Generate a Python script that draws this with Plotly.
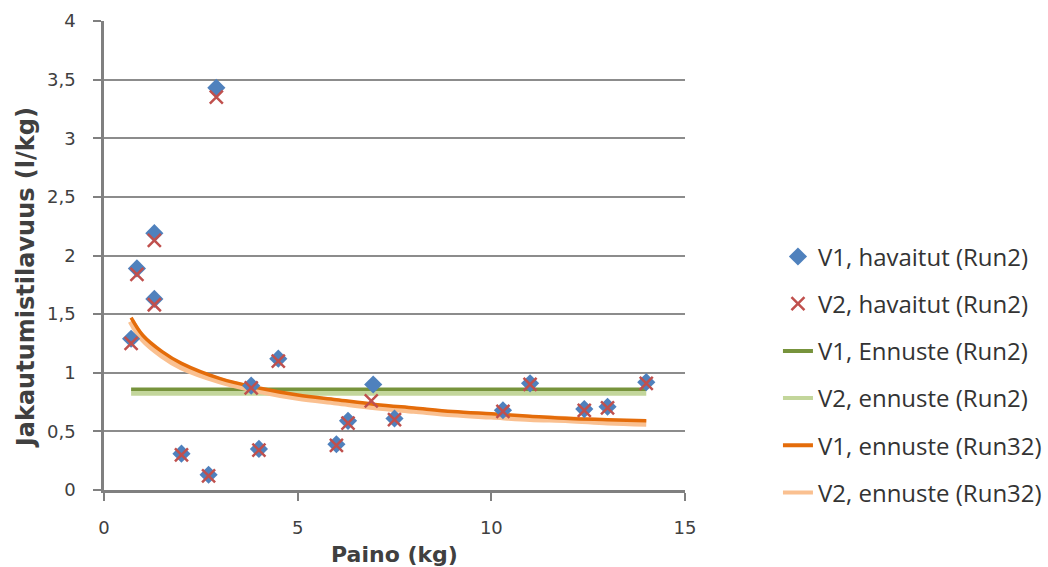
import plotly.graph_objects as go

# Observed data (Paino kg, Jakautumistilavuus l/kg)
obs_x = [0.7, 0.85, 1.3, 1.3, 2.9, 2.0, 2.7, 3.8, 4.0, 4.5, 6.0, 6.3, 6.95, 7.5, 10.3, 11.0, 12.4, 13.0, 14.0]
v1_obs = [1.29, 1.89, 1.63, 2.19, 3.43, 0.31, 0.13, 0.89, 0.35, 1.12, 0.39, 0.59, 0.90, 0.61, 0.68, 0.91, 0.69, 0.71, 0.92]
v2_obs_x = [0.7, 0.85, 1.3, 1.3, 2.9, 2.0, 2.7, 3.8, 4.0, 4.5, 6.0, 6.3, 6.9, 7.5, 10.3, 11.0, 12.4, 13.0, 14.0]
v2_obs = [1.25, 1.84, 1.58, 2.13, 3.35, 0.30, 0.12, 0.87, 0.34, 1.10, 0.38, 0.57, 0.76, 0.60, 0.67, 0.90, 0.68, 0.70, 0.91]

# Predictions
pred2_x = [0.7, 14.0]
v1_pred2 = [0.86, 0.86]
v2_pred2 = [0.83, 0.83]

pred32_x = [0.7, 1.0, 1.5, 2.0, 3.0, 4.0, 5.0, 6.0, 7.0, 8.0, 9.0, 10.0, 11.0, 12.0, 13.0, 14.0]
v1_pred32 = [1.47, 1.32, 1.18, 1.08, 0.95, 0.87, 0.81, 0.77, 0.73, 0.70, 0.67, 0.65, 0.63, 0.61, 0.60, 0.59]
v2_pred32 = [1.44, 1.29, 1.15, 1.05, 0.93, 0.85, 0.79, 0.75, 0.71, 0.68, 0.65, 0.63, 0.61, 0.60, 0.58, 0.57]

x_title = "Paino (kg)"
y_title = "Jakautumistilavuus (l/kg)"

fig = go.Figure()

# drawn lines (legend entries are separate stubs to control order/look)
fig.add_trace(go.Scatter(x=pred2_x, y=v2_pred2, mode="lines", name="V2, ennuste (Run2)",
                         line=dict(color="#C3D69B", width=6), showlegend=False))
fig.add_trace(go.Scatter(x=pred2_x, y=v1_pred2, mode="lines", name="V1, Ennuste (Run2)",
                         line=dict(color="#77933C", width=3.5), showlegend=False))
fig.add_trace(go.Scatter(x=pred32_x, y=v2_pred32, mode="lines", name="V2, ennuste (Run32)",
                         line=dict(color="#FAC090", width=7, shape="spline"), showlegend=False))
fig.add_trace(go.Scatter(x=pred32_x, y=v1_pred32, mode="lines", name="V1, ennuste (Run32)",
                         line=dict(color="#E46C0A", width=3.5, shape="spline"), showlegend=False))

fig.add_trace(go.Scatter(x=obs_x, y=v1_obs, mode="markers", name="V1, havaitut (Run2)",
                         marker=dict(symbol="diamond", color="#4F81BD", size=14),
                         legendgroup="a", legendrank=1))
fig.add_trace(go.Scatter(x=v2_obs_x, y=v2_obs, mode="markers", name="V2, havaitut (Run2)",
                         marker=dict(symbol="x-thin", size=13, line=dict(color="#C0504D", width=2.5)),
                         legendgroup="b", legendrank=2))

fig.add_trace(go.Scatter(x=[None], y=[None], mode="lines", name="V1, Ennuste (Run2)",
                         line=dict(color="#77933C", width=4), legendgroup="c", legendrank=3))
fig.add_trace(go.Scatter(x=[None], y=[None], mode="lines", name="V2, ennuste (Run2)",
                         line=dict(color="#C3D69B", width=4), legendgroup="d", legendrank=4))
fig.add_trace(go.Scatter(x=[None], y=[None], mode="lines", name="V1, ennuste (Run32)",
                         line=dict(color="#E46C0A", width=4), legendgroup="e", legendrank=5))
fig.add_trace(go.Scatter(x=[None], y=[None], mode="lines", name="V2, ennuste (Run32)",
                         line=dict(color="#FAC090", width=4), legendgroup="f", legendrank=6))

tickfont = dict(family="DejaVu Sans, sans-serif", size=18, color="#404040")
titlefont = dict(family="DejaVu Sans, sans-serif", size=22, color="#404040", weight="bold")

fig.update_layout(
    width=1048, height=567,
    margin=dict(l=104, r=363, t=21, b=77, autoexpand=False),
    paper_bgcolor="white", plot_bgcolor="white",
    separators=", ",
    legend=dict(x=1.16, xanchor="left", xref="paper", y=0.545, yanchor="top",
                bgcolor="rgba(0,0,0,0)",
                font=dict(family="Open Sans, sans-serif", size=24, color="#333333"),
                tracegroupgap=13, traceorder="grouped"),
    xaxis=dict(range=[0, 15], tickvals=[0, 5, 10, 15], showgrid=False, automargin=False,
               showline=True, linecolor="#808080", linewidth=2.5,
               ticks="outside", tickcolor="#808080", ticklen=8, tickwidth=2,
               ticklabelstandoff=12,
               tickfont=tickfont,
               title=dict(text=x_title, font=titlefont, standoff=10),
               zeroline=False),
    yaxis=dict(range=[0, 4], dtick=0.5, showgrid=True, gridcolor="#8c8c8c", gridwidth=2,
               showline=True, linecolor="#808080", linewidth=2.5, automargin=False,
               ticks="outside", tickcolor="#808080", ticklen=8, tickwidth=2,
               ticklabelstandoff=14,
               tickfont=tickfont,
               zeroline=False),
    annotations=[dict(text=y_title, textangle=-90, xref="paper", yref="paper",
                      x=-0.134, y=0.452, xanchor="center", yanchor="middle", showarrow=False,
                      font=dict(family="DejaVu Sans, sans-serif", size=24, color="#404040", weight="bold"))],
)

fig.write_html("out.html", config={"displayModeBar": False},
               post_script="document.body.style.margin='0px';")
